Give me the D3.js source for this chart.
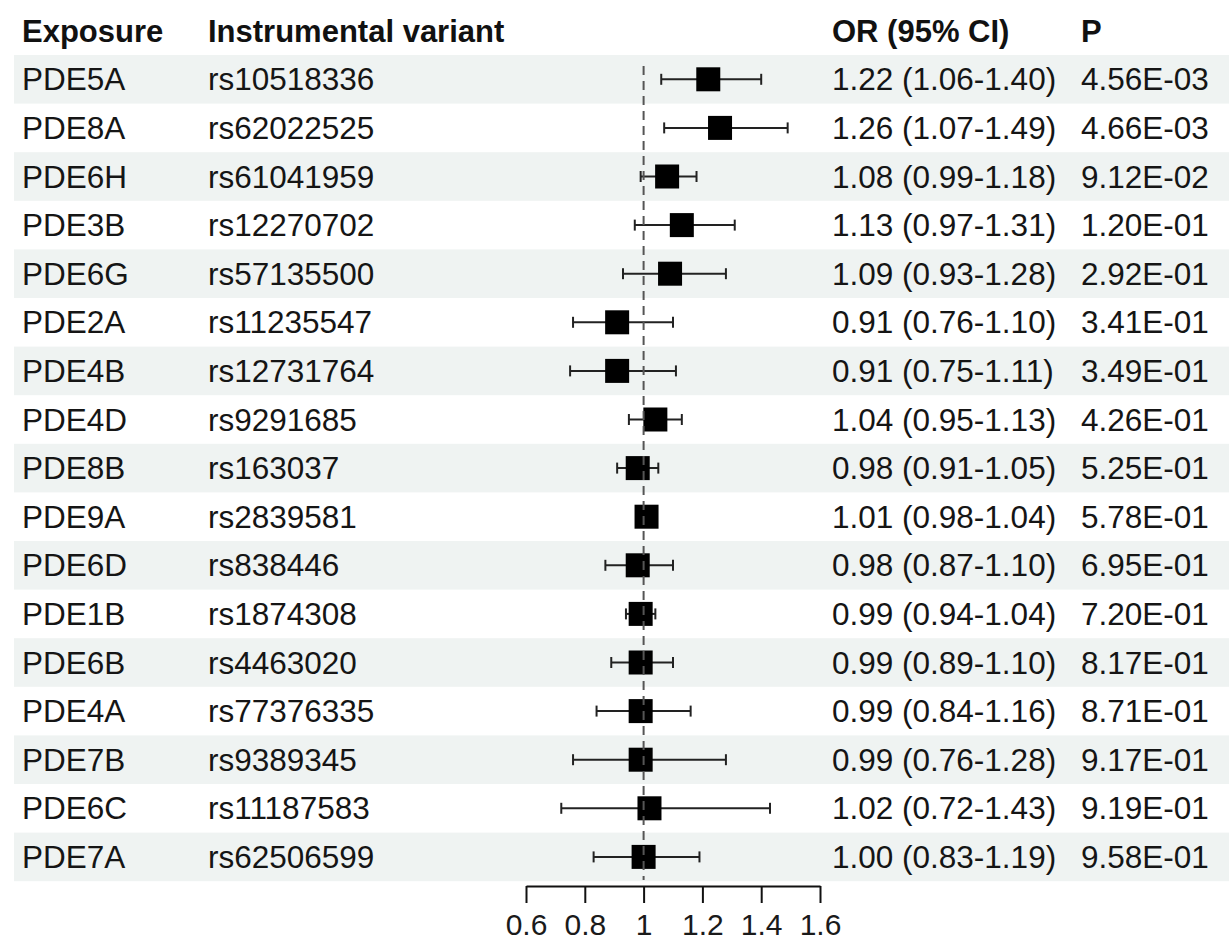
<!DOCTYPE html>
<html>
<head>
<meta charset="utf-8">
<script src="https://cdn.jsdelivr.net/npm/d3@7"></script>
<style>
body { margin: 0; background: white; }
svg { display: block; }
</style>
</head>
<body>
<svg width="1229" height="942"></svg>
<script>
var svg = d3.select('svg');

// table data, one entry per row (top to bottom)
var exposures = ["PDE5A","PDE8A","PDE6H","PDE3B","PDE6G","PDE2A","PDE4B","PDE4D","PDE8B",
	"PDE9A","PDE6D","PDE1B","PDE6B","PDE4A","PDE7B","PDE6C","PDE7A"]
var variants = ["rs10518336","rs62022525","rs61041959","rs12270702","rs57135500","rs11235547",
	"rs12731764","rs9291685","rs163037","rs2839581","rs838446","rs1874308","rs4463020",
	"rs77376335","rs9389345","rs11187583","rs62506599"]
var or = [1.22,1.26,1.08,1.13,1.09,0.91,0.91,1.04,0.98,1.01,0.98,0.99,0.99,0.99,0.99,1.02,1.00]
var lower = [1.06,1.07,0.99,0.97,0.93,0.76,0.75,0.95,0.91,0.98,0.87,0.94,0.89,0.84,0.76,0.72,0.83]
var upper = [1.40,1.49,1.18,1.31,1.28,1.10,1.11,1.13,1.05,1.04,1.10,1.04,1.10,1.16,1.28,1.43,1.19]
var pvals = ["4.56E-03","4.66E-03","9.12E-02","1.20E-01","2.92E-01","3.41E-01","3.49E-01",
	"4.26E-01","5.25E-01","5.78E-01","6.95E-01","7.20E-01","8.17E-01","8.71E-01","9.17E-01",
	"9.19E-01","9.58E-01"]
var headers = ["Exposure","Instrumental variant","OR (95% CI)","P"]
var tickVals = [0.6,0.8,1,1.2,1.4,1.6]

var font = 'Arial, "Liberation Sans", sans-serif'
var fsize = 31.5
var colX = [22, 208, 832, 1081]
var f2 = d3.format(".2f")

var x = d3.scaleLinear().domain([0.6, 1.6]).range([526, 820])
var y = d3.scaleBand().domain(d3.range(exposures.length)).range([55, 881.2])

//Row stripes
svg.selectAll('rect.stripe')
	.data(d3.range(exposures.length).filter(function(i) { return i % 2 == 0 }))
	.enter().append('rect')
	.attr('class', 'stripe')
	.attr('x', 14)
	.attr('y', function(i) { return y(i) })
	.attr('width', 1229 - 14)
	.attr('height', y.bandwidth())
	.attr('fill', '#eff3f2')

//Header
svg.selectAll('text.head')
	.data(headers)
	.enter().append('text')
	.attr('class', 'head')
	.attr('x', function(d, i) { return colX[i] })
	.attr('y', 42)
	.attr('font-family', font)
	.attr('font-size', 31)
	.attr('font-weight', 'bold')
	.attr('fill', '#111')
	.text(function(d) { return d })

//Table cells
var rows = svg.selectAll('g.row')
	.data(d3.range(exposures.length))
	.enter().append('g')
	.attr('class', 'row')
	.attr('transform', function(i) { return 'translate(0,' + (y(i) + y.bandwidth() / 2 + 11) + ')' })

var cells = [
	function(i) { return exposures[i] },
	function(i) { return variants[i] },
	function(i) { return f2(or[i]) + ' (' + f2(lower[i]) + '-' + f2(upper[i]) + ')' },
	function(i) { return pvals[i] }
]
cells.forEach(function(fn, c) {
	rows.append('text')
		.attr('x', colX[c])
		.attr('font-family', font)
		.attr('font-size', fsize)
		.attr('fill', '#151515')
		.text(fn)
})

//Confidence intervals
var ci = svg.append('g')
	.selectAll('g')
	.data(d3.range(exposures.length))
	.enter().append('g')
	.attr('stroke', '#222')
	.attr('stroke-width', 2)
ci.append('line')
	.attr('x1', function(i) { return x(lower[i]) })
	.attr('x2', function(i) { return x(upper[i]) })
	.attr('y1', function(i) { return y(i) + y.bandwidth() / 2 })
	.attr('y2', function(i) { return y(i) + y.bandwidth() / 2 })
ci.append('line')
	.attr('x1', function(i) { return x(lower[i]) })
	.attr('x2', function(i) { return x(lower[i]) })
	.attr('y1', function(i) { return y(i) + y.bandwidth() / 2 - 5.5 })
	.attr('y2', function(i) { return y(i) + y.bandwidth() / 2 + 5.5 })
ci.append('line')
	.attr('x1', function(i) { return x(upper[i]) })
	.attr('x2', function(i) { return x(upper[i]) })
	.attr('y1', function(i) { return y(i) + y.bandwidth() / 2 - 5.5 })
	.attr('y2', function(i) { return y(i) + y.bandwidth() / 2 + 5.5 })

//Point estimates
var box = 24
svg.append('g')
	.selectAll('rect')
	.data(d3.range(exposures.length))
	.enter().append('rect')
	.attr('x', function(i) { return x(or[i]) - box / 2 })
	.attr('y', function(i) { return y(i) + y.bandwidth() / 2 - box / 2 })
	.attr('width', box)
	.attr('height', box)
	.attr('fill', '#000')

//Reference line at 1
svg.append('line')
	.attr('x1', x(1)).attr('x2', x(1))
	.attr('y1', 66).attr('y2', 880)
	.attr('stroke', '#555')
	.attr('stroke-width', 2)
	.attr('stroke-dasharray', '9,6')

//X axis
var axis = svg.append('g')
	.attr('transform', 'translate(0,886)')
	.call(d3.axisBottom(x).tickValues(tickVals).tickSize(17).tickSizeOuter(0)
		.tickPadding(11).tickFormat(d3.format("")))
axis.select('.domain').attr('stroke', '#111').attr('stroke-width', 2)
axis.selectAll('.tick line').attr('stroke', '#111').attr('stroke-width', 2)
axis.selectAll('.tick text')
	.attr('font-family', font)
	.attr('font-size', 30)
	.attr('fill', '#1a1a1a')
</script>
</body>
</html>
